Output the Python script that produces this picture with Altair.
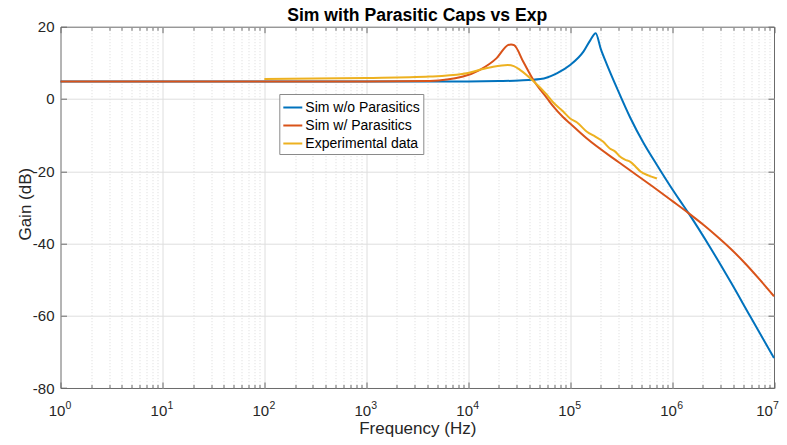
import altair as alt
import pandas as pd

FONT = "Liberation Sans"

series_names = ["Sim w/o Parasitics", "Sim w/ Parasitics", "Experimental data"]
series_colors = ["#0072BD", "#D95319", "#EDB120"]

blue_f = [1, 1e3, 1e4, 2.0e4, 3.16e4, 5.1e4, 7.4e4, 1e5, 1.35e5, 1.58e5, 1.78e5,
          2.0e5, 2.29e5, 2.88e5, 3.89e5, 5.25e5, 7.08e5, 9.55e5, 1.2e6, 1.45e6,
          2.45e6, 3.8e6, 5.82e6, 1e7]
blue_g = [4.8, 4.8, 4.85, 4.95, 5.1, 5.5, 7.1, 9.4, 13.1, 16.3, 18.2,
          13.8, 9.6, 3.0, -5.2, -12.2, -18.2, -24.0, -28.2, -31.6,
          -41.8, -50.9, -60.1, -71.7]

orange_f = [1, 1e3, 4.2e3, 8.9e3, 1.29e4, 1.9e4, 2.45e4, 2.63e4, 2.82e4, 3.47e4,
            4.37e4, 5.9e4, 6.8e4, 8.5e4, 1e5, 1.45e5, 3.1e5, 6.5e5, 1e6, 1.45e6,
            2.0e6, 2.75e6, 3.8e6, 5.25e6, 7.25e6, 1e7]
orange_g = [4.8, 4.85, 5.0, 6.2, 8.0, 11.3, 14.9, 15.1, 14.9, 10.3,
            5.2, 0.3, -2.0, -5.0, -6.8, -10.9, -17.8, -24.3, -28.2, -31.6,
            -34.7, -38.0, -41.6, -45.6, -50.0, -54.6]

yellow_f = [100, 1e3, 4.2e3, 8.7e3, 1.62e4, 2.45e4, 2.8e4, 3.24e4, 4.27e4, 5.9e4,
            6.8e4, 8.5e4, 1e5, 1.17e5, 1.45e5, 1.78e5, 2.1e5, 2.45e5, 2.75e5, 3.1e5,
            3.45e5, 3.9e5, 4.35e5, 4.9e5, 5.9e5, 7.1e5]
yellow_g = [5.5, 5.8, 6.2, 6.9, 8.7, 9.4, 9.1, 8.0, 5.2, 1.2,
            -0.9, -3.4, -5.4, -6.5, -9.0, -10.5, -11.8, -13.7, -14.5, -16.0,
            -16.8, -17.4, -18.6, -20.1, -21.2, -22.0]

x_major = [1, 10, 100, 1000, 10000, 100000, 1000000, 10000000]
x_minor = [m * 10 ** k for k in range(7) for m in range(2, 10)]
y_ticks = [-80, -60, -40, -20, 0, 20]

df = pd.concat([
    pd.DataFrame({"f": blue_f, "gain": blue_g, "series": series_names[0]}),
    pd.DataFrame({"f": orange_f, "gain": orange_g, "series": series_names[1]}),
    pd.DataFrame({"f": yellow_f, "gain": yellow_g, "series": series_names[2]}),
], ignore_index=True)

W, H = 713.5, 361.3
AX = "#6b6b6b"
GRID = "#dedede"
MINOR = "#dadada"

xs = alt.Scale(type="log", domain=[1, 1e7], nice=False)
ys = alt.Scale(domain=[-80, 20], nice=False)
cs = alt.Scale(domain=series_names, range=series_colors)

edge_x = "datum.value === 1 || datum.value === 10000000"
edge_y = "datum.value === -80 || datum.value === 20"
last_x = "datum.value === 10000000"

legend = alt.Legend(
    title=None, orient="none", legendX=218.8, legendY=67.3,
    fillColor="white", strokeColor="#8a8a8a", padding=3, cornerRadius=0,
    labelFont=FONT, labelFontSize=14, labelColor="black",
    symbolType="stroke", symbolSize=360, symbolStrokeWidth=2,
    rowPadding=0, labelOffset=2,
)

def sel(name):
    return alt.Chart(df).transform_filter(alt.datum.series == name)

# invisible layer: minor x grid + ticks, left y axis
l0 = sel(series_names[0]).mark_line(opacity=0).encode(
    x=alt.X("f:Q", scale=xs, axis=alt.Axis(
        orient="bottom", values=x_minor, grid=True, gridColor=MINOR,
        gridDash=[1, 2], gridWidth=1, ticks=True, tickSize=3.5, offset=-3.5,
        labels=False, domain=False, title=None)),
    y=alt.Y("gain:Q", scale=ys, axis=alt.Axis(
        orient="left", values=y_ticks, grid=True, gridColor=GRID,
        gridOpacity={"condition": {"test": edge_y, "value": 0}, "value": 1},
        ticks=True, tickSize=6, offset=-6, labels=True, labelFontSize=15,
        labelExpr="datum.value + ''",
        labelPadding=6.5, domain=False, title="Gain (dB)", titleFontSize=17,
        titleAngle=270, titleBaseline="alphabetic", titleX=-35.8, titleY=177)),
)

# invisible layer: exponent part of the x tick labels
l4 = sel(series_names[0]).mark_line(opacity=0).encode(
    x=alt.X("f:Q", scale=xs, axis=alt.Axis(
        orient="bottom", values=x_major, grid=False, ticks=False, tickSize=0,
        labels=True, labelExpr="'' + round(log(datum.value) / LN10)",
        labelFontSize=10.5,
        labelOffset={"condition": {"test": last_x, "value": 1.5}, "value": 7.5},
        labelBaseline="alphabetic",
        labelPadding=20.5, labelFlush=False, labelOverlap=False,
        domain=False, title=None)),
    y=alt.Y("gain:Q", scale=ys, axis=None),
)

l1 = sel(series_names[0]).mark_line(strokeWidth=2, interpolate="monotone").encode(
    x=alt.X("f:Q", scale=xs, axis=alt.Axis(
        orient="bottom", values=x_major, grid=True, gridColor=GRID,
        gridOpacity={"condition": {"test": edge_x, "value": 0}, "value": 1},
        ticks=True, tickSize=6, offset=-6, labels=True, labelExpr="'10'",
        labelFontSize=15, labelBaseline="alphabetic", labelPadding=27,
        labelOffset={"condition": {"test": last_x, "value": -10}, "value": -4},
        labelFlush=False, labelOverlap=False, domain=False,
        title="Frequency (Hz)", titleFontSize=17, titleBaseline="alphabetic",
        titleY=51.5)),
    y=alt.Y("gain:Q", scale=ys, axis=alt.Axis(
        orient="right", values=y_ticks, grid=False, ticks=True, tickSize=6,
        offset=-6, labels=False, domain=False, title=None)),
    color=alt.Color("series:N", scale=cs, legend=legend),
)

l2 = sel(series_names[1]).mark_line(strokeWidth=2, interpolate="monotone").encode(
    x=alt.X("f:Q", scale=xs, axis=alt.Axis(
        orient="top", values=x_major, grid=False, ticks=True, tickSize=6,
        offset=-6, labels=False, domain=False, title=None)),
    y=alt.Y("gain:Q", scale=ys, axis=None),
    color=alt.Color("series:N", scale=cs, legend=legend),
)

l3 = sel(series_names[2]).mark_line(strokeWidth=2, interpolate="monotone").encode(
    x=alt.X("f:Q", scale=xs, axis=alt.Axis(
        orient="top", values=x_minor, grid=False, ticks=True, tickSize=3.5,
        offset=-3.5, labels=False, domain=False, title=None)),
    y=alt.Y("gain:Q", scale=ys, axis=None),
    color=alt.Color("series:N", scale=cs, legend=legend),
)

chart = alt.layer(l0, l4, l1, l2, l3).resolve_scale(
    x="shared", y="shared", color="shared"
).resolve_axis(
    x="independent", y="independent"
).properties(
    width=W, height=H,
    autosize=alt.AutoSizeParams(type="none"),
    padding={"left": 52.5, "top": 18.7, "right": 5, "bottom": 49},
    title=alt.TitleParams(
        text="Sim with Parasitic Caps vs Exp", font=FONT, fontSize=17.6,
        fontWeight="bold", color="black", anchor="middle", frame="group",
        offset=5, baseline="alphabetic", dy=24),
).configure_view(
    stroke=AX, strokeWidth=1
).configure_axis(
    labelFont=FONT, titleFont=FONT, labelColor="#262626", titleColor="#262626",
    titleFontWeight="normal", tickColor=AX, tickWidth=1, domain=False,
)

chart.save("out.html", embed_options={"renderer": "svg", "actions": False})
